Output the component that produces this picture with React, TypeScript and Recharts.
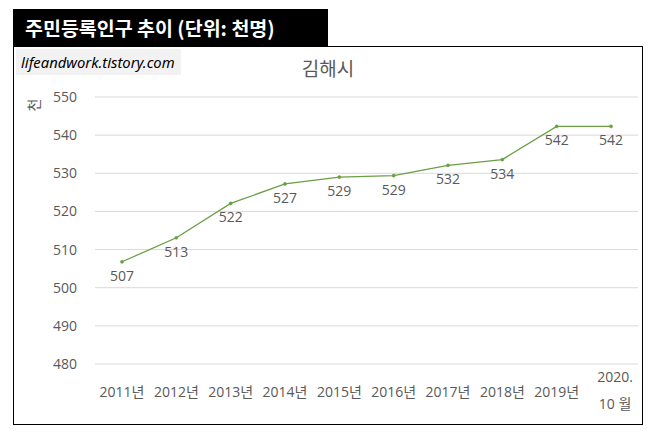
import React from "react";
import { LineChart, Line, XAxis, YAxis, CartesianGrid, LabelList } from "recharts";

const categories = ["2011년", "2012년", "2013년", "2014년", "2015년", "2016년", "2017년", "2018년", "2019년", "2020.\n10 월"];
const population = [506.8, 513.1, 522.1, 527.2, 529.0, 529.4, 532.1, 533.6, 542.3, 542.3];
const yTicks = [480, 490, 500, 510, 520, 530, 540, 550];

const data = categories.map((c, i) => ({ name: c, value: population[i] }));

const FONT = "'Open Sans', 'Noto Sans CJK KR', sans-serif";
const KFONT = "'Noto Sans CJK KR', 'Noto Sans', sans-serif";
const GREY = "#595959";

const XTick = (props: any) => {
  const { x, y, payload } = props;
  const lines = String(payload.value).split("\n");
  if (lines.length === 1) {
    return (
      <text x={x} y={y + 31} textAnchor="middle" fontSize={14} fill={GREY} fontFamily={FONT}>
        {lines[0]}
      </text>
    );
  }
  return (
    <text textAnchor="middle" fontSize={14} fill={GREY} fontFamily={FONT}>
      <tspan x={x + 4} y={y + 16}>{lines[0]}</tspan>
      <tspan x={x + 4} y={y + 43}>{lines[1]}</tspan>
    </text>
  );
};

const ValueLabel = (props: any) => {
  const { x, y, value } = props;
  return (
    <text x={x} y={y + 19} textAnchor="middle" fontSize={14} fill={GREY} fontFamily={FONT}>
      {Math.round(value)}
    </text>
  );
};

export default function App() {
  return (
    <div style={{ position: "absolute", left: 0, top: 0, width: 660, height: 435, background: "#fff", fontFamily: KFONT }}>
      <div
        style={{
          position: "absolute",
          left: 13,
          top: 46,
          width: 630,
          height: 379,
          border: "1.5px solid #000",
          boxSizing: "border-box",
        }}
      />
      <div style={{ position: "absolute", left: 0, top: 0 }}>
        <LineChart width={660} height={435} data={data} margin={{ top: 97, right: 22, bottom: 0, left: 0 }}>
          <CartesianGrid vertical={false} stroke="#d9d9d9" strokeWidth={1} />
          <XAxis
            dataKey="name"
            axisLine={false}
            tickLine={false}
            tickSize={0}
            interval={0}
            padding={{ left: 27, right: 27 }}
            tick={<XTick />}
            height={71}
          />
          <YAxis
            domain={[480, 550]}
            ticks={yTicks}
            axisLine={false}
            tickLine={false}
            tickSize={0}
            tickMargin={18}
            width={95}
            tick={{ fontSize: 14, fill: GREY, fontFamily: FONT }}
          />
          <Line
            type="linear"
            dataKey="value"
            stroke="#6a9f45"
            strokeWidth={1.3}
            dot={{ r: 1.6, fill: "#6a9f45", stroke: "#6a9f45", strokeWidth: 0.5 }}
            isAnimationActive={false}
          >
            <LabelList dataKey="value" content={<ValueLabel />} />
          </Line>
        </LineChart>
      </div>
      <div
        style={{
          position: "absolute",
          left: 13,
          top: 9,
          width: 315,
          height: 37,
          background: "#000",
          color: "#fff",
          fontWeight: 700,
          fontSize: 19.5,
          lineHeight: "37px",
          paddingLeft: 12,
          boxSizing: "border-box",
          whiteSpace: "nowrap",
        }}
      >
        주민등록인구 추이 (단위: 천명)
      </div>
      <div
        style={{
          position: "absolute",
          left: 16,
          top: 49,
          width: 165,
          height: 26,
          background: "#f2f2f2",
          color: "#000",
          fontStyle: "italic",
          fontSize: 14.8,
          lineHeight: "26px",
          paddingLeft: 5,
          boxSizing: "border-box",
          whiteSpace: "nowrap",
          fontFamily: "'Noto Sans', sans-serif",
        }}
      >
        lifeandwork.tistory.com
      </div>
      <div
        style={{
          position: "absolute",
          left: 228,
          width: 200,
          top: 55,
          textAlign: "center",
          fontSize: 19,
          lineHeight: "26px",
          color: GREY,
        }}
      >
        김해시
      </div>
      <div
        style={{
          position: "absolute",
          left: 33,
          top: 105,
          transform: "translate(-50%, -50%) rotate(-90deg)",
          fontSize: 14,
          color: GREY,
          lineHeight: "16px",
        }}
      >
        천
      </div>
    </div>
  );
}
